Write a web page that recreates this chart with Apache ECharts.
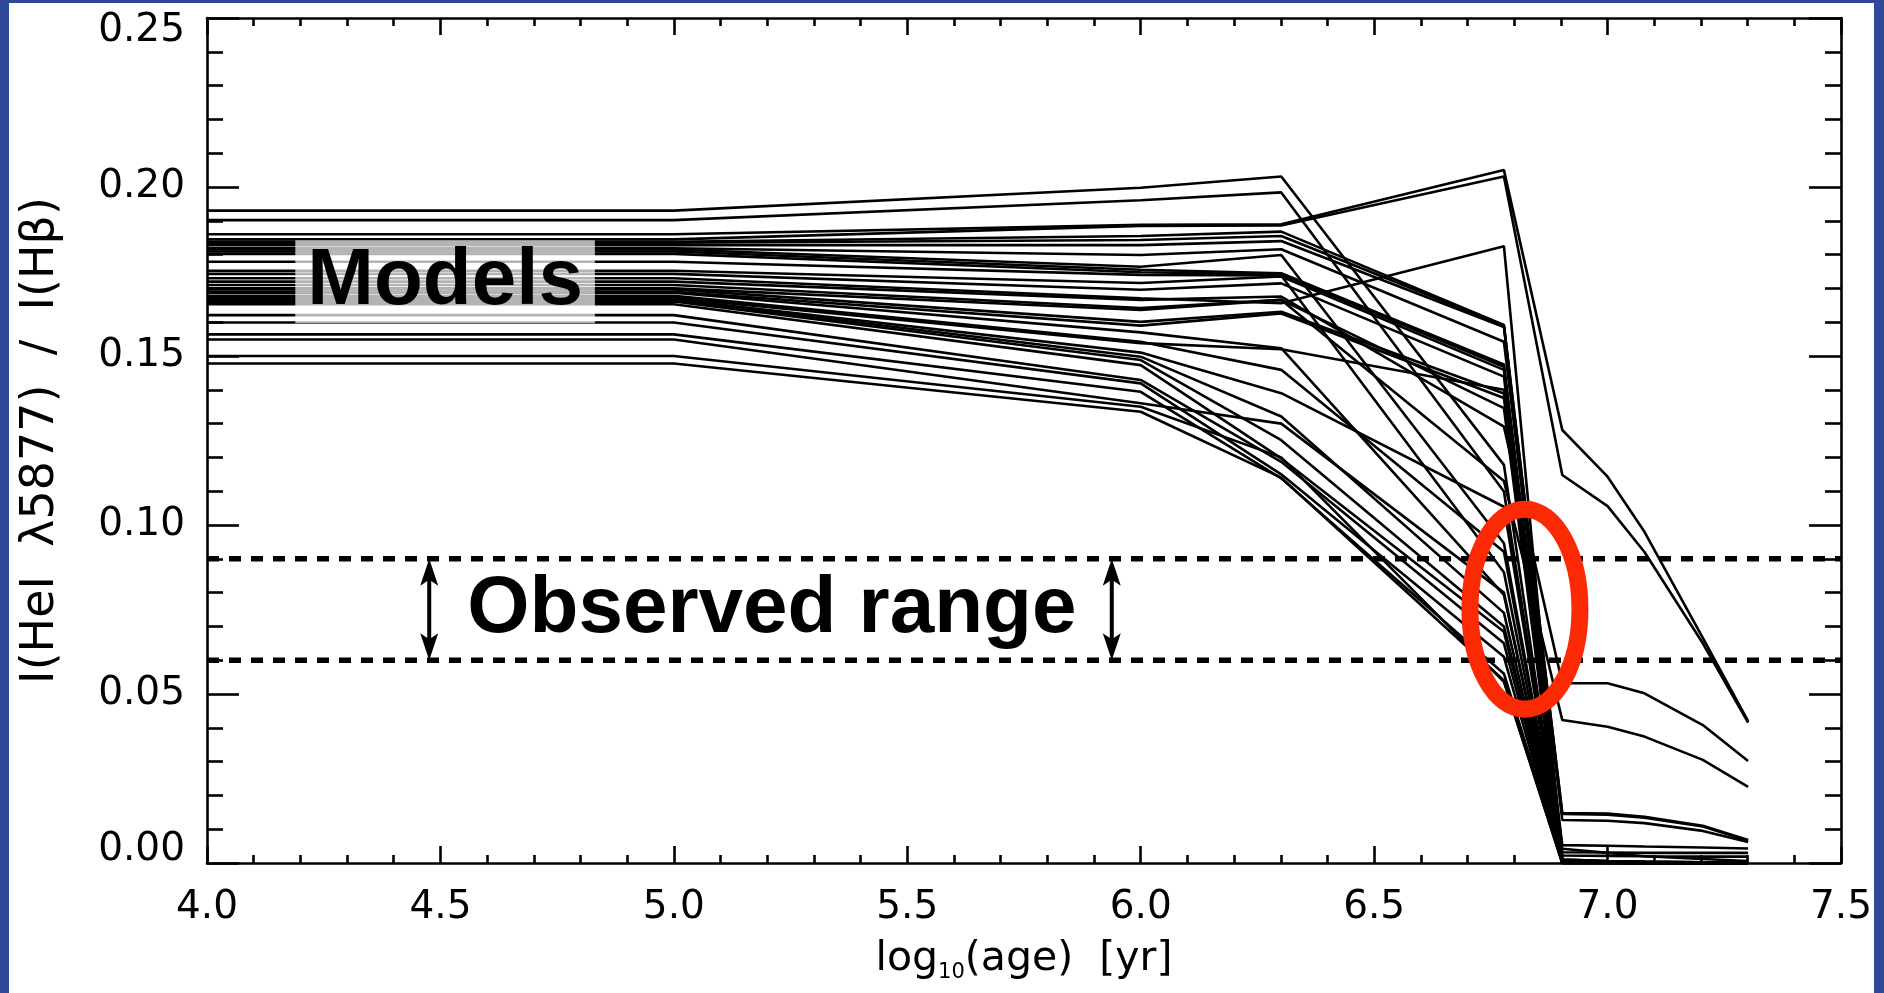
<!DOCTYPE html>
<html>
<head>
<meta charset="utf-8">
<script src="https://cdn.jsdelivr.net/npm/echarts@6/dist/echarts.min.js"></script>
<style>
html,body{margin:0;padding:0;background:#fff;}
#c{width:1884px;height:993px;}
</style>
</head>
<body>
<div id="c"></div>
<script>
// log10(age) sample points of the models
const ages = [4.0, 5.0, 6.0, 6.301, 6.778, 6.903, 7.0, 7.079, 7.204, 7.301];

// I(HeI 5877)/I(Hbeta) for each model track
const m01 = [0.1930, 0.1930, 0.1998, 0.2031, 0.1178, 0.0010, 0.0006, 0.0004, 0.0002, 0.0001];
const m02 = [0.1902, 0.1902, 0.1961, 0.1984, 0.1099, 0.0008, 0.0005, 0.0003, 0.0002, 0.0001];
const m03 = [0.1860, 0.1860, 0.1888, 0.1890, 0.2050, 0.1281, 0.1143, 0.0980, 0.0666, 0.0420];
const m04 = [0.1845, 0.1845, 0.1885, 0.1886, 0.2031, 0.1148, 0.1056, 0.0920, 0.0650, 0.0415];
const m05 = [0.1838, 0.1838, 0.1855, 0.1868, 0.1592, 0.0022, 0.0021, 0.0020, 0.0019, 0.0019];
const m06 = [0.1835, 0.1835, 0.1843, 0.1855, 0.1590, 0.0148, 0.0146, 0.0137, 0.0110, 0.0068];
const m07 = [0.1828, 0.1828, 0.1828, 0.1840, 0.1586, 0.0145, 0.0143, 0.0134, 0.0108, 0.0066];
const m08 = [0.1819, 0.1819, 0.1799, 0.1816, 0.1542, 0.0127, 0.0125, 0.0118, 0.0095, 0.0062];
const m09 = [0.1815, 0.1815, 0.1764, 0.1799, 0.0946, 0.0006, 0.0003, 0.0002, 0.0001, 0.0000];
const m10 = [0.1809, 0.1809, 0.1755, 0.1745, 0.1475, 0.0053, 0.0051, 0.0049, 0.0046, 0.0043];
const m11 = [0.1802, 0.1802, 0.1748, 0.1742, 0.1468, 0.0032, 0.0031, 0.0030, 0.0030, 0.0030];
const m12 = [0.1779, 0.1779, 0.1740, 0.1738, 0.0860, 0.0004, 0.0002, 0.0001, 0.0000, 0.0000];
const m13 = [0.1752, 0.1752, 0.1716, 0.1735, 0.1459, 0.0042, 0.0030, 0.0020, 0.0012, 0.0006];
const m14 = [0.1743, 0.1743, 0.1696, 0.1715, 0.1439, 0.0010, 0.0006, 0.0004, 0.0002, 0.0001];
const m15 = [0.1730, 0.1730, 0.1671, 0.1656, 0.1825, 0.0008, 0.0004, 0.0002, 0.0001, 0.0000];
const m16 = [0.1720, 0.1720, 0.1666, 0.1676, 0.1291, 0.0532, 0.0532, 0.0502, 0.0408, 0.0302];
const m17 = [0.1710, 0.1710, 0.1642, 0.1666, 0.1130, 0.0423, 0.0403, 0.0374, 0.0305, 0.0225];
const m18 = [0.1700, 0.1700, 0.1636, 0.1666, 0.1346, 0.0006, 0.0003, 0.0002, 0.0001, 0.0000];
const m19 = [0.1697, 0.1697, 0.1601, 0.1631, 0.1389, 0.0005, 0.0003, 0.0001, 0.0000, 0.0000];
const m20 = [0.1690, 0.1690, 0.1590, 0.1626, 0.1376, 0.0004, 0.0002, 0.0001, 0.0000, 0.0000];
const m21 = [0.1687, 0.1687, 0.1570, 0.1523, 0.0793, 0.0003, 0.0001, 0.0000, 0.0000, 0.0000];
const m22 = [0.1678, 0.1678, 0.1542, 0.1459, 0.0921, 0.0005, 0.0002, 0.0001, 0.0000, 0.0000];
const m23 = [0.1672, 0.1672, 0.1538, 0.1520, 0.1400, 0.0004, 0.0002, 0.0001, 0.0000, 0.0000];
const m24 = [0.1668, 0.1668, 0.1510, 0.1390, 0.1054, 0.0002, 0.0001, 0.0000, 0.0000, 0.0000];
const m25 = [0.1665, 0.1665, 0.1498, 0.1321, 0.0740, 0.0001, 0.0000, 0.0000, 0.0000, 0.0000];
const m26 = [0.1661, 0.1661, 0.1488, 0.1251, 0.0700, 0.0000, 0.0000, 0.0000, 0.0000, 0.0000];
const m27 = [0.1653, 0.1653, 0.1473, 0.1197, 0.0684, 0.0002, 0.0001, 0.0000, 0.0000, 0.0000];
const m28 = [0.1621, 0.1621, 0.1429, 0.1187, 0.0650, 0.0001, 0.0000, 0.0000, 0.0000, 0.0000];
const m29 = [0.1599, 0.1599, 0.1419, 0.1150, 0.0610, 0.0000, 0.0000, 0.0000, 0.0000, 0.0000];
const m30 = [0.1564, 0.1564, 0.1394, 0.1138, 0.0560, 0.0003, 0.0001, 0.0000, 0.0000, 0.0000];
const m31 = [0.1549, 0.1549, 0.1360, 0.1300, 0.0800, 0.0001, 0.0000, 0.0000, 0.0000, 0.0000];
const m32 = [0.1500, 0.1500, 0.1350, 0.1200, 0.0536, 0.0000, 0.0000, 0.0000, 0.0000, 0.0000];
const m33 = [0.1478, 0.1478, 0.1335, 0.1140, 0.0540, 0.0000, 0.0000, 0.0000, 0.0000, 0.0000];

const models = [m01, m02, m03, m04, m05, m06, m07, m08, m09, m10, m11, m12, m13, m14, m15, m16, m17,
                m18, m19, m20, m21, m22, m23, m24, m25, m26, m27, m28, m29, m30, m31, m32, m33];

// axes
const xTicks = [4.0, 4.5, 5.0, 5.5, 6.0, 6.5, 7.0, 7.5];
const yTicks = [0.00, 0.05, 0.10, 0.15, 0.20, 0.25];

// observed range and annotations
const observedRange = [0.06, 0.09];
const arrowAges = [4.476, 5.938];
const modelsLabelAt = [4.51, 0.172];
const observedLabelAt = [5.21, 0.075];
const ellipseAt = [6.823, 0.0751];

const xMin = xTicks[0], xMax = xTicks[xTicks.length - 1];
const yMin = yTicks[0], yMax = yTicks[yTicks.length - 1];

const axisLineStyle = {color: '#000', width: 2.6};
const tickFont = {color: '#000', fontFamily: 'DejaVu Sans', fontSize: 39};

function xAxisDef(pos, withLabels) {
  return {
    type: 'value', min: xMin, max: xMax, interval: 0.5, position: pos,
    axisLine: {show: true, onZero: false, lineStyle: axisLineStyle},
    axisTick: {show: true, inside: true, length: 17, lineStyle: axisLineStyle},
    minorTick: {show: true, splitNumber: 5, length: 8, lineStyle: axisLineStyle},
    splitLine: {show: false}, minorSplitLine: {show: false},
    axisLabel: withLabels ? Object.assign({show: true, margin: 25, showMinLabel: true, showMaxLabel: true,
      formatter: v => v.toFixed(1)}, tickFont) : {show: false}
  };
}
function yAxisDef(pos, withLabels) {
  return {
    type: 'value', min: yMin, max: yMax, interval: 0.05, position: pos,
    axisLine: {show: true, onZero: false, lineStyle: axisLineStyle},
    axisTick: {show: true, inside: true, length: 32, lineStyle: axisLineStyle},
    minorTick: {show: true, splitNumber: 5, length: 16, lineStyle: axisLineStyle},
    splitLine: {show: false}, minorSplitLine: {show: false},
    axisLabel: withLabels ? Object.assign({show: true, margin: 22, lineHeight: 26,
      verticalAlignMaxLabel: 'top', verticalAlignMinLabel: 'bottom',
      showMinLabel: true, showMaxLabel: true,
      formatter: v => v.toFixed(2)}, tickFont) : {show: false}
  };
}

const xA = xAxisDef('bottom', true);
xA.name = '{a|log}{s|10}{a|(age)  [yr]}';
xA.nameLocation = 'middle';
xA.nameGap = 72;
xA.nameTextStyle = {
  rich: {
    a: {fontFamily: 'DejaVu Sans', fontSize: 41, color: '#000', lineHeight: 48},
    s: {fontFamily: 'DejaVu Sans', fontSize: 21, color: '#000', lineHeight: 22, verticalAlign: 'bottom'}
  }
};
const yA = yAxisDef('left', true);
yA.name = 'I(HeI  λ5877)  /  I(Hβ)';
yA.nameLocation = 'middle';
yA.nameGap = 143;
yA.nameRotate = 90;
yA.nameTextStyle = {fontFamily: 'DejaVu Sans', fontSize: 46, color: '#000'};

const series = models.map((m, i) => ({
  type: 'line', name: 'model ' + (i + 1),
  data: ages.map((a, j) => [a, m[j]]),
  symbol: 'none', showSymbol: false, silent: true, clip: false, z: 2,
  lineStyle: {color: '#000', width: 2.6}
}));

observedRange.forEach((v, i) => {
  series.push({
    type: 'line', name: 'observed ' + i,
    data: [[xMin, v], [xMax, v]],
    symbol: 'none', silent: true, z: 3,
    lineStyle: {color: '#000', width: 5.5, type: [12, 10]}
  });
});

// double arrows
series.push({
  type: 'custom', name: 'arrows', z: 4, silent: true,
  data: arrowAges.map(a => [a, observedRange[0], observedRange[1]]),
  renderItem: (params, api) => {
    const lo = api.coord([api.value(0), api.value(1)]);
    const hi = api.coord([api.value(0), api.value(2)]);
    const hw = 9, hl = 27, notch = 21;
    return {
      type: 'group',
      children: [
        {type: 'line', shape: {x1: hi[0], y1: hi[1] + notch, x2: lo[0], y2: lo[1] - notch},
         style: {stroke: '#000', lineWidth: 4}},
        {type: 'polygon', shape: {points: [[hi[0], hi[1]], [hi[0] - hw, hi[1] + hl], [hi[0], hi[1] + notch], [hi[0] + hw, hi[1] + hl]]},
         style: {fill: '#000'}},
        {type: 'polygon', shape: {points: [[lo[0], lo[1]], [lo[0] - hw, lo[1] - hl], [lo[0], lo[1] - notch], [lo[0] + hw, lo[1] - hl]]},
         style: {fill: '#000'}}
      ]
    };
  }
});

// text annotations
series.push({
  type: 'custom', name: 'annotations', z: 6, silent: true, clip: false,
  data: [[modelsLabelAt[0], modelsLabelAt[1], 0], [observedLabelAt[0], observedLabelAt[1], 1]],
  renderItem: (params, api) => {
    const c = api.coord([api.value(0), api.value(1)]);
    const isModels = api.value(2) === 0;
    const style = {
      text: isModels ? 'Models' : 'Observed range',
      fill: '#000',
      font: 'bold 80px "Liberation Sans", Arial, sans-serif',
      align: 'center', verticalAlign: 'middle'
    };
    if (isModels) {
      style.backgroundColor = 'rgba(255,255,255,0.7)';
      style.padding = [3, 12, 1, 12];
      style.lineHeight = 79;
    }
    return {type: 'text', x: c[0], y: c[1], style: style};
  }
});

// red ellipse
series.push({
  type: 'custom', name: 'highlight', z: 8, silent: true, clip: false,
  data: [ellipseAt],
  renderItem: (params, api) => {
    const c = api.coord([api.value(0), api.value(1)]);
    return {type: 'ellipse', shape: {cx: c[0], cy: c[1], rx: 55, ry: 100},
            style: {fill: 'none', stroke: '#fb2a05', lineWidth: 17}};
  }
});

const chart = echarts.init(document.getElementById('c'), null, {renderer: 'canvas'});
chart.setOption({
  animation: false,
  backgroundColor: '#fff',
  grid: {left: 207, top: 18, width: 1634, height: 845, containLabel: false},
  xAxis: [xA, xAxisDef('top', false)],
  yAxis: [yA, yAxisDef('right', false)],
  series: series,
  graphic: [
    {type: 'rect', left: 0, top: 0, shape: {width: 9, height: 993}, style: {fill: '#2f4898'}, z: 100},
    {type: 'rect', left: 0, top: 0, shape: {width: 1884, height: 3}, style: {fill: '#2f4898'}, z: 100},
    {type: 'rect', right: 0, top: 0, shape: {width: 10, height: 993}, style: {fill: '#2f4898'}, z: 100}
  ]
});
</script>
</body>
</html>
